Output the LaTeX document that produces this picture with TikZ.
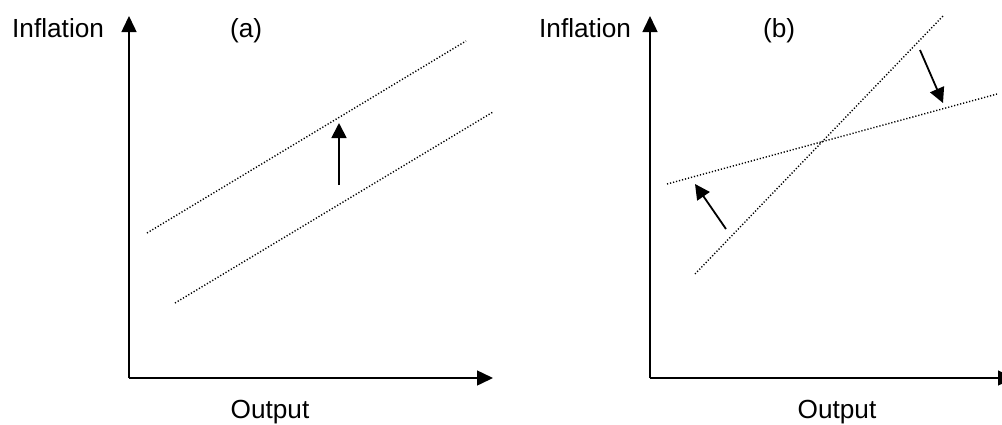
\documentclass[tikz,border=0pt]{standalone}
\usepackage{fontspec}
\setmainfont{Liberation Sans}
\usetikzlibrary{arrows.meta}

\begin{document}
\begin{tikzpicture}[x=1pt, y=-1pt,
axis/.style={line width=1.5pt, -{Triangle[length=16pt, width=15pt]}},
shiftarr/.style={line width=1.8pt, -{Triangle[length=15pt, width=15pt]}},
curve/.style={line width=1.4pt, dash pattern=on 1.2pt off 1.9pt},
lbl/.style={inner sep=0pt, font=\fontsize{26.2}{30}\selectfont}
]
\useasboundingbox (0,0) rectangle (1002,424);

% Panel (a)
\coordinate (oa) at (129,378);
\coordinate (ya) at (129,16);
\coordinate (xa) at (493,378);
\draw[axis] (oa) -- (ya);
\draw[axis] (oa) -- (xa);
\node[lbl, anchor=base west] (infla) at (12,37) {Inflation};
\node[lbl, anchor=base west] (taga) at (230,37) {(a)};
\node[lbl, anchor=base] (outa) at (270,418) {Output};

\coordinate (hiA) at (147,233);
\coordinate (hiB) at (466,41);
\coordinate (loA) at (175,303);
\coordinate (loB) at (493,112);
\draw[curve] (hiA) -- (hiB);
\draw[curve] (loA) -- (loB);

\coordinate (upS) at (339,185);
\coordinate (upE) at (339,123);
\draw[shiftarr] (upS) -- (upE);

% Panel (b)
\coordinate (ob) at (650,378);
\coordinate (yb) at (650,16);
\coordinate (xb) at (1014,378);
\draw[axis] (ob) -- (yb);
\draw[axis] (ob) -- (xb);
\node[lbl, anchor=base west] (inflb) at (539,37) {Inflation};
\node[lbl, anchor=base west] (tagb) at (763,37) {(b)};
\node[lbl, anchor=base] (outb) at (837,418) {Output};

\coordinate (stA) at (695,274);
\coordinate (stB) at (943,16);
\coordinate (flA) at (667,184);
\coordinate (flB) at (997,94);
\draw[curve] (stA) -- (stB);
\draw[curve] (flA) -- (flB);

\coordinate (dnS) at (920,50);
\coordinate (dnE) at (943,103);
\draw[shiftarr] (dnS) -- (dnE);
\coordinate (lfS) at (726,229);
\coordinate (lfE) at (695,184);
\draw[shiftarr] (lfS) -- (lfE);
\end{tikzpicture}
\end{document}
